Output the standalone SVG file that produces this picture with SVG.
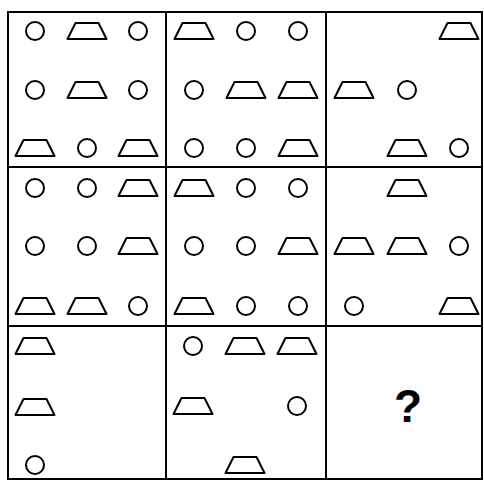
<svg xmlns="http://www.w3.org/2000/svg" xmlns:xlink="http://www.w3.org/1999/xlink" width="484" height="480" viewBox="0 0 484 480">
<style>
.s{fill:none;stroke:#000;stroke-width:2;stroke-linejoin:round}
.g{fill:none;stroke:#000;stroke-width:2}
.q{font-family:"Liberation Sans",Arial,sans-serif;font-size:46px;font-weight:bold;fill:#000;text-anchor:middle}
</style>
<defs>
<path id="t" class="s" d="M-19.5,8 L19.5,8 L11.5,-8 L-11.5,-8 Z"/>
<circle id="c" class="s" r="9"/>
</defs>
<rect width="484" height="480" fill="#fff"/>
<g id="grid">
<rect class="g" x="8" y="12" width="474" height="467"/>
<line class="g" x1="166" y1="12" x2="166" y2="479"/>
<line class="g" x1="326" y1="12" x2="326" y2="479"/>
<line class="g" x1="8" y1="167" x2="482" y2="167"/>
<line class="g" x1="8" y1="326" x2="482" y2="326"/>
</g>
<g id="cell1">
<use href="#c" x="35" y="31"/><use href="#t" x="87" y="31"/><use href="#c" x="138" y="31"/>
<use href="#c" x="35" y="90"/><use href="#t" x="87" y="90"/><use href="#c" x="138" y="90"/>
<use href="#t" x="35" y="148"/><use href="#c" x="87" y="148"/><use href="#t" x="138" y="148"/>
</g>
<g id="cell2">
<use href="#t" x="194" y="31"/><use href="#c" x="246" y="31"/><use href="#c" x="298" y="31"/>
<use href="#c" x="194" y="90"/><use href="#t" x="246" y="90"/><use href="#t" x="298" y="90"/>
<use href="#c" x="194" y="148"/><use href="#c" x="246" y="148"/><use href="#t" x="298" y="148"/>
</g>
<g id="cell3">
<use href="#t" x="459" y="31"/>
<use href="#t" x="354" y="90"/><use href="#c" x="407" y="90"/>
<use href="#t" x="407" y="148"/><use href="#c" x="459" y="148"/>
</g>
<g id="cell4">
<use href="#c" x="35" y="188"/><use href="#c" x="87" y="188"/><use href="#t" x="138" y="188"/>
<use href="#c" x="35" y="246"/><use href="#c" x="87" y="246"/><use href="#t" x="138" y="246"/>
<use href="#t" x="35" y="306"/><use href="#t" x="87" y="306"/><use href="#c" x="138" y="306"/>
</g>
<g id="cell5">
<use href="#t" x="194" y="188"/><use href="#c" x="246" y="188"/><use href="#c" x="298" y="188"/>
<use href="#c" x="194" y="246"/><use href="#c" x="246" y="246"/><use href="#t" x="298" y="246"/>
<use href="#t" x="194" y="306"/><use href="#c" x="246" y="306"/><use href="#c" x="298" y="306"/>
</g>
<g id="cell6">
<use href="#t" x="407" y="188"/>
<use href="#t" x="354" y="246"/><use href="#t" x="407" y="246"/><use href="#c" x="459" y="246"/>
<use href="#c" x="354" y="306"/><use href="#t" x="459" y="306"/>
</g>
<g id="cell7">
<use href="#t" x="35" y="346"/>
<use href="#t" x="35" y="407"/>
<use href="#c" x="35" y="465"/>
</g>
<g id="cell8">
<use href="#c" x="193" y="346"/><use href="#t" x="245" y="346"/><use href="#t" x="297" y="346"/>
<use href="#t" x="193" y="406"/><use href="#c" x="297" y="406"/>
<use href="#t" x="245" y="465"/>
</g>
<g id="cell9">
<text class="q" x="408" y="422">?</text>
</g>
</svg>
